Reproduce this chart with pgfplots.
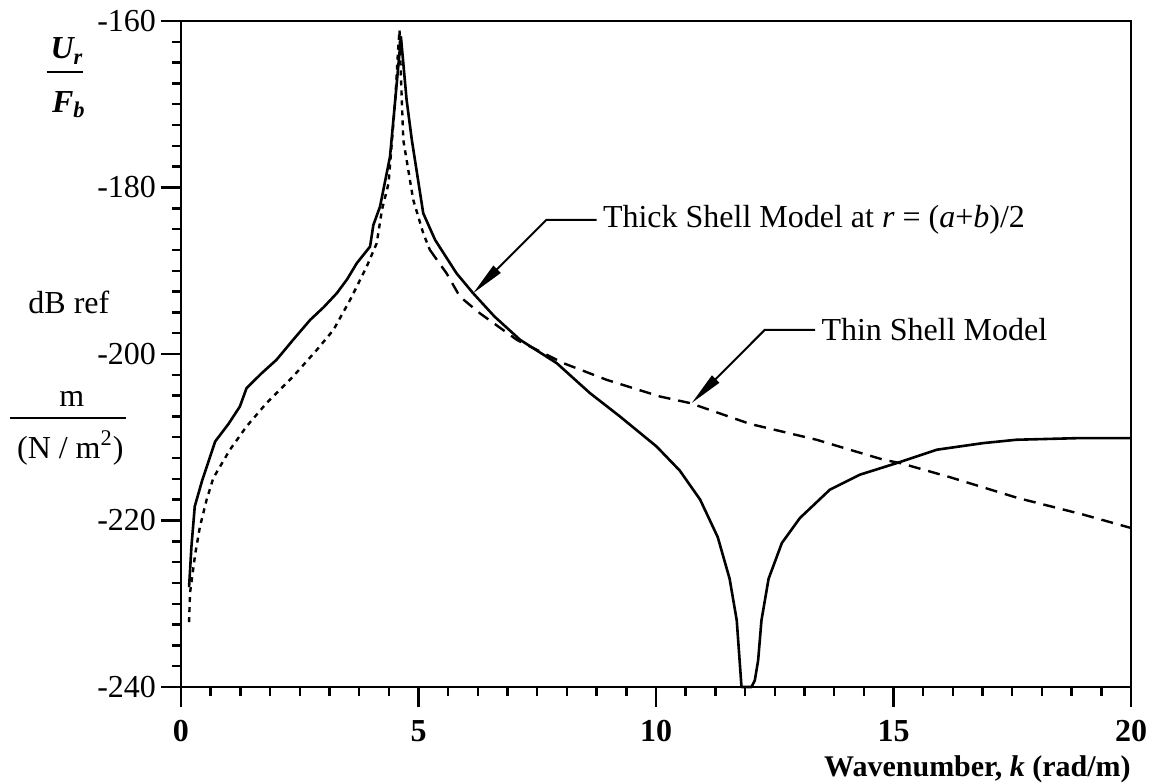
\documentclass[border=0pt]{standalone}
\usepackage{fontspec}
\setmainfont{Liberation Serif}
\usepackage{pgfplots}
\pgfplotsset{compat=1.18}
\usetikzlibrary{arrows.meta}
\begin{document}
\begin{tikzpicture}
\begin{axis}[
  scale only axis, width=475pt, height=333pt,
  xmin=0, xmax=20, ymin=-240, ymax=-160,
  xtick={0,5,10,15,20}, xticklabels={0,5,10,15,20},
  ytick={-240,-220,-200,-180,-160}, yticklabels={-240,-220,-200,-180,-160},
  minor x tick num=7, minor y tick num=7,
  tick pos=left, tick align=outside,
  major tick length=10pt, minor tick length=4.5pt,
  every tick/.style={black, line width=1.2pt},
  axis line style={line width=1.4pt},
  yticklabel style={font=\fontsize{16}{18}\selectfont, xshift=1pt},
  xticklabel style={font=\fontsize{16}{18}\selectfont\bfseries, yshift=-3pt},
  clip=false,
]
% Thick shell model (solid)
\addplot[black, line width=1.3pt, line join=round] coordinates {
(0.17,-228.0) (0.22,-223.1) (0.29,-218.3) (0.44,-215.3) (0.72,-210.5)
(1.0,-208.4) (1.24,-206.3) (1.38,-204.1) (1.7,-202.3) (2.01,-200.7)
(2.36,-198.3) (2.72,-195.9) (3.0,-194.4) (3.28,-192.7) (3.5,-191.0)
(3.70,-189.1) (3.98,-187.1) (4.05,-184.5) (4.19,-182.3) (4.40,-176.3)
(4.51,-169.5) (4.63,-161.9) (4.75,-169.5) (4.86,-174.3) (5.10,-183.1)
(5.35,-186.3) (5.80,-190.3) (6.15,-192.7) (6.6,-195.5) (7.14,-198.3)
(7.91,-201.1) (8.61,-204.7) (9.24,-207.5) (10.01,-211.1) (10.5,-214.0)
(10.93,-217.5) (11.3,-222.0) (11.55,-227.0) (11.70,-232.0) (11.80,-240.0)
(12.01,-240.0) (12.08,-239.2) (12.15,-236.8) (12.22,-232.0) (12.37,-227.0)
(12.65,-222.7) (13.03,-219.7) (13.66,-216.3) (14.29,-214.5) (15.07,-213.1)
(15.91,-211.5) (16.89,-210.7) (17.59,-210.3) (18.93,-210.1) (20,-210.1)
};
% Thin shell model (dashed), fine dashes left of peak
\addplot[black, line width=1.2pt, dash pattern=on 2.5pt off 2.5pt] coordinates {
(0.17,-232.2) (0.19,-228.7) (0.3,-224.0) (0.40,-220.7) (0.54,-217.5)
(0.68,-214.9) (1.03,-211.5) (1.38,-208.7) (1.80,-205.9) (2.36,-202.7)
(2.86,-199.5) (3.21,-197.1) (3.56,-193.5) (3.91,-189.5) (4.12,-186.7)
(4.23,-182.7) (4.37,-179.5) (4.51,-169.5) (4.57,-163.5) (4.60,-161.1)
(4.63,-166.7) (4.68,-174.3) (4.89,-181.5) (5.10,-185.5) (5.24,-187.5)
};
\addplot[black, line width=1.2pt, dash pattern=on 6pt off 4pt] coordinates {
(5.24,-187.5) (5.59,-190.3) (5.87,-193.1) (6.29,-195.1) (7.07,-198.3)
(8.05,-201.1) (8.96,-203.1) (10.08,-205.1) (10.72,-205.9) (11.98,-208.4)
(13.38,-210.3) (14.08,-211.5) (14.79,-212.7) (15.14,-213.1) (16.19,-214.8)
(17.62,-217.3) (19.0,-219.3) (20,-220.9)
};
% annotations
\draw[line width=1pt, -{Triangle[length=17pt,width=5pt]}]
  (axis cs:8.75,-183.9) -- (axis cs:7.69,-183.9) -- (axis cs:6.15,-192.7);
\node[anchor=west, inner sep=3pt, font=\fontsize{16}{18}\selectfont]
  at (axis cs:8.75,-183.9) {Thick Shell Model at \textit{r} = (\textit{a}+\textit{b})/2};
\draw[line width=1pt, -{Triangle[length=17pt,width=5pt]}]
  (axis cs:13.35,-197.1) -- (axis cs:12.29,-197.1) -- (axis cs:10.75,-205.9);
\node[anchor=west, inner sep=3pt, font=\fontsize{16}{18}\selectfont]
  at (axis cs:13.35,-197.1) {Thin Shell Model};
% x label
\node[anchor=base east, inner sep=0pt, font=\fontsize{15}{17}\selectfont\bfseries]
  at (axis cs:20,-250.8) {Wavenumber, \textit{k} (rad/m)};
% y label pieces
\node[font=\fontsize{16}{18}\selectfont\bfseries\itshape] at (axis cs:-2.40,-163.6) {U\textsubscript{r}};
\draw[line width=1pt] (axis cs:-2.83,-166.1) -- (axis cs:-2.06,-166.1);
\node[font=\fontsize{16}{18}\selectfont\bfseries\itshape] at (axis cs:-2.36,-170.0) {F\textsubscript{b}};
\node[font=\fontsize{16}{18}\selectfont] at (axis cs:-2.36,-193.75) {dB ref};
\node[font=\fontsize{16}{18}\selectfont] at (axis cs:-2.30,-205.4) {m};
\draw[line width=1pt] (axis cs:-3.6,-207.7) -- (axis cs:-1.16,-207.7);
\node[font=\fontsize{16}{18}\selectfont] at (axis cs:-2.33,-211.3) {(N / m\textsuperscript{2})};
\end{axis}
\pgfresetboundingbox
\useasboundingbox (-90.5pt,-47.5pt) rectangle (490pt,343.5pt);
\end{tikzpicture}
\end{document}
